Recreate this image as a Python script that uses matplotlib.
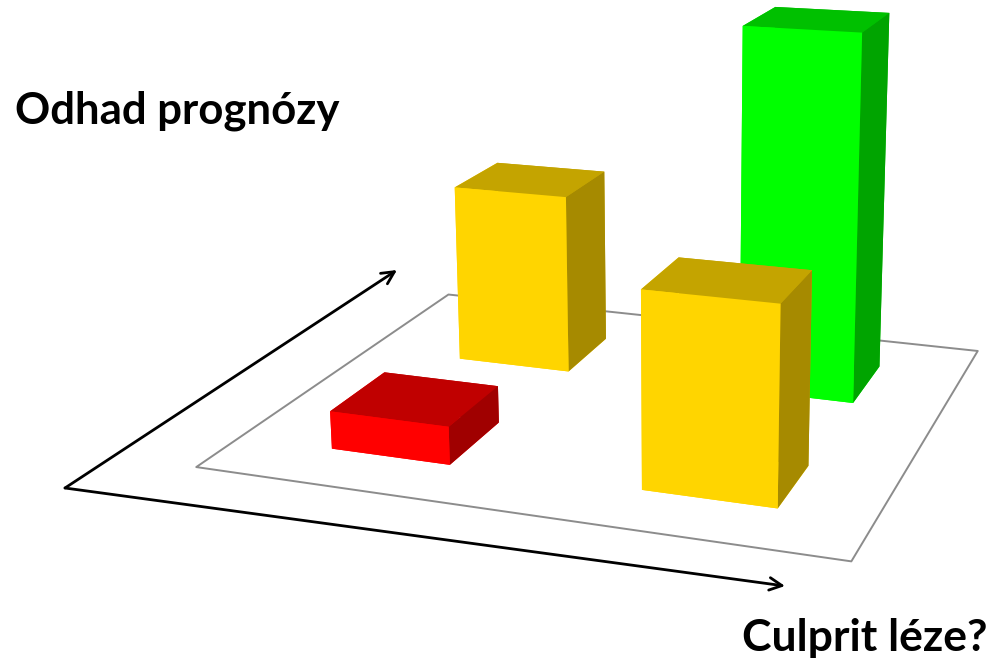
import matplotlib
matplotlib.use('Agg')
import matplotlib.pyplot as plt
from mpl_toolkits.mplot3d.art3d import Poly3DCollection

# Footprints on the unit floor and the height of each column
bar_names = ['green', 'yellow_back', 'red', 'yellow_front']
bar_x = [0.670, 0.173, 0.159, 0.658]
bar_y = [0.645, 0.635, 0.145, 0.15]
bar_dx = [0.19, 0.20, 0.197, 0.203]
bar_dy = [0.205, 0.20, 0.205, 0.185]
bar_h = [1.985, 1.0, 0.2, 1.0]

# front, top, side shades of each column
front_colors = ['#00FF00', '#FFD500', '#FF0000', '#FFD500']
top_colors = ['#00C000', '#C4A400', '#C00000', '#C4A400']
side_colors = ['#00A400', '#A68A00', '#A00000', '#A68A00']

W, H = 991, 665
fig = plt.figure(figsize=(W / 100, H / 100), dpi=100)
ax = fig.add_axes([0.105, -0.100, 1.0, W / H], projection='3d')
ax.set_proj_type('persp', focal_length=0.385)
ax.view_init(elev=15.6, azim=-69.6, roll=0.5)
ax.computed_zorder = False

# floor
floor = [[(0, 0, 0), (1, 0, 0), (1, 1, 0), (0, 1, 0)]]
ax.add_collection3d(Poly3DCollection(floor, facecolor='white', edgecolor='#8C8C8C',
                                     linewidth=1.4, zorder=1))

for i in range(len(bar_names)):
    # bar3d face order: bottom, top, front, back, left, right
    faces = [front_colors[i], top_colors[i], front_colors[i],
             top_colors[i], front_colors[i], side_colors[i]]
    poly = ax.bar3d(bar_x[i], bar_y[i], 0, bar_dx[i], bar_dy[i], bar_h[i],
                    color=faces, shade=False, zsort='average')
    poly.set_zorder(2 + i)
    poly.set_linewidth(0)

ax.set_xlim(0, 1, view_margin=0)
ax.set_ylim(0, 1, view_margin=0)
ax.set_zlim(0, 2, view_margin=0)
ax.set_box_aspect((640, 575, 388), zoom=0.922)
ax.set_axis_off()

# Overlay in pixel units for the two axis arrows and captions
over = fig.add_axes([0, 0, 1, 1])
over.set_xlim(0, W)
over.set_ylim(H, 0)
over.axis('off')
over.patch.set_alpha(0)
for end in [(397, 270), (785, 586)]:
    over.annotate('', xy=end, xytext=(65, 488),
                  arrowprops=dict(arrowstyle='->,head_length=0.9,head_width=0.45', color='black',
                                  lw=2.0, shrinkA=0, shrinkB=0))
over.text(15, 111, 'Odhad prognózy', fontsize=31.5, fontweight='bold', family='Lato',
          va='center', ha='left', color='black')
over.text(987, 638, 'Culprit léze?', fontsize=32, fontweight='bold', family='Lato',
          va='center', ha='right', color='black')

fig.savefig('out.png', dpi=100)
